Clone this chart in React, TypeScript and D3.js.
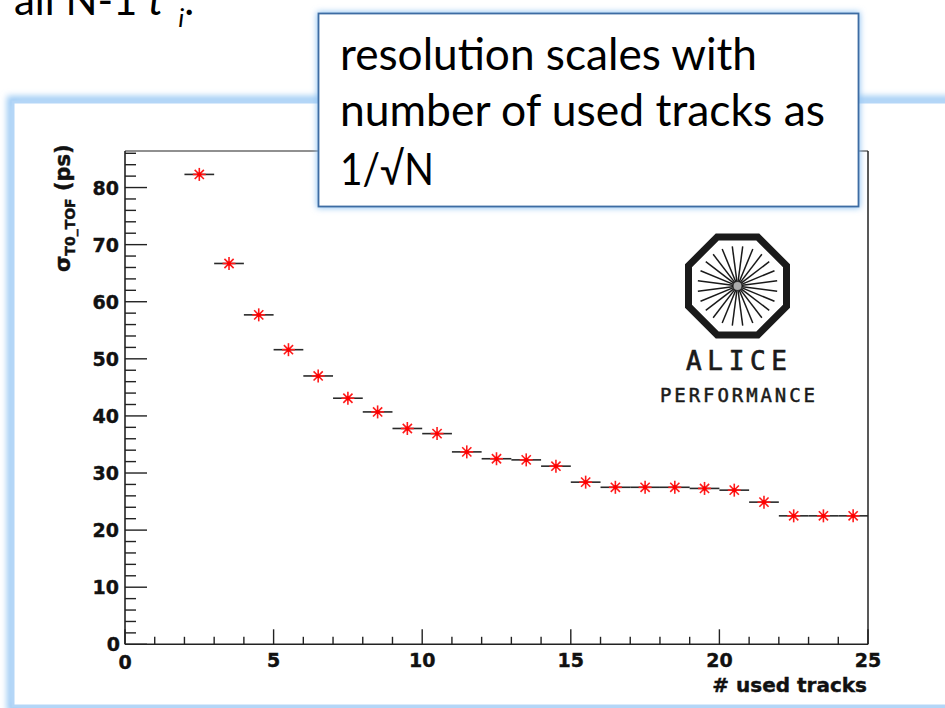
import React from "react";
import * as d3 from "d3";

// Bin centres of the "# used tracks" histogram and the measured T0 resolution per bin (ps)
const trackBinCenters = [
  2.5, 3.5, 4.5, 5.5, 6.5, 7.5, 8.5, 9.5, 10.5, 11.5, 12.5, 13.5,
  14.5, 15.5, 16.5, 17.5, 18.5, 19.5, 20.5, 21.5, 22.5, 23.5, 24.5,
];
const sigmaT0Values = [
  82.3, 66.7, 57.7, 51.6, 47.0, 43.1, 40.7, 37.8, 36.9, 33.7, 32.5, 32.3,
  31.2, 28.4, 27.5, 27.5, 27.5, 27.3, 27.0, 24.9, 22.5, 22.5, 22.5,
];
const binWidth = 1;

const xMajorTicks = [0, 5, 10, 15, 20, 25];
const yMajorTicks = [0, 10, 20, 30, 40, 50, 60, 70, 80];
const xDomain: [number, number] = [0, 25];
const yDomain: [number, number] = [0, 86.4];

const calloutLines = ["resolution scales with", "number of used tracks as", "1/√N"];

const W = 945;
const H = 708;
const ROOT_FONT = "'DejaVu Sans', sans-serif";
const LOGO_FONT = "'DejaVu Sans Mono', monospace";
const SLIDE_FONT = "Lato, 'Open Sans', sans-serif";

function AliceLogo({ cx, cy }: { cx: number; cy: number }) {
  const apothem = 49;
  const R = apothem / Math.cos(Math.PI / 8);
  const octagon = d3.range(8).map((k) => {
    const a = Math.PI / 8 + (k * Math.PI) / 4;
    return [cx + R * Math.cos(a), cy + R * Math.sin(a)];
  });
  const rays = d3.range(24).map((k) => (k * Math.PI) / 12 + Math.PI / 24);
  return (
    <g>
      <polygon
        points={octagon.map((p) => p.join(",")).join(" ")}
        fill="none"
        stroke="#1a1a1a"
        strokeWidth={7}
        strokeLinejoin="miter"
      />
      {rays.map((a, i) => (
        <line
          key={i}
          x1={cx + 3 * Math.cos(a)}
          y1={cy + 3 * Math.sin(a)}
          x2={cx + 40 * Math.cos(a)}
          y2={cy + 40 * Math.sin(a)}
          stroke="#1a1a1a"
          strokeWidth={1.5}
        />
      ))}
      <circle cx={cx} cy={cy} r={4} fill="#aaa" />
      <text
        x={686}
        y={370}
        fontFamily={LOGO_FONT}
        fontSize={26}
        fill="#1a1a1a"
        stroke="#1a1a1a"
        strokeWidth={0.7}
        textLength={101}
        lengthAdjust="spacing"
      >
        ALICE
      </text>
      <text
        x={660}
        y={402}
        fontFamily={LOGO_FONT}
        fontSize={19}
        fill="#1a1a1a"
        stroke="#1a1a1a"
        strokeWidth={0.5}
        textLength={155}
        lengthAdjust="spacing"
      >
        PERFORMANCE
      </text>
    </g>
  );
}

export default function App() {
  const x = d3.scaleLinear().domain(xDomain).range([125, 868]);
  const y = d3.scaleLinear().domain(yDomain).range([644.3, 151]);

  const xMinor = x.ticks(25).filter((t) => !xMajorTicks.includes(t));
  const yMinor = d3.range(0, yDomain[1], 2).filter((t) => !yMajorTicks.includes(t));

  const [x0, x1] = x.range();
  const [yb, yt] = y.range();

  const labelStyle = {
    fontFamily: ROOT_FONT,
    fontWeight: "bold" as const,
    fontSize: 19,
    fill: "#111",
    stroke: "#111",
    strokeWidth: 0.4,
  };

  return (
    <div style={{ position: "absolute", left: 0, top: 0 }}>
      <svg width={W} height={H} style={{ display: "block", background: "#fff" }}>
        <defs>
          <filter id="glow" x="-10%" y="-10%" width="120%" height="120%">
            <feGaussianBlur stdDeviation={3} />
          </filter>
        </defs>

        {/* slide heading fragment */}
        <text x={14} y={15} fontFamily={SLIDE_FONT} fontSize={42} fill="#000">
          all N-1{" "}
          <tspan fontStyle="italic">t</tspan>
          <tspan fontSize={26} dy={-18}>0</tspan>
          <tspan fontSize={26} fontStyle="italic" dy={30}>i</tspan>
          <tspan dy={-12}>.</tspan>
        </text>

        {/* picture panel */}
        <rect x={11} y={100} width={960} height={608} fill="none" stroke="#9ccaf4" strokeWidth={8} filter="url(#glow)" />
        <rect x={13} y={102} width={960} height={604} fill="#fff" stroke="#b4d6f7" strokeWidth={3} />

        {/* frame */}
        <line x1={x0} y1={yt} x2={x1} y2={yt} stroke="#222" strokeWidth={1.2} />
        <line x1={x1} y1={yt} x2={x1} y2={yb} stroke="#222" strokeWidth={1.5} />

        {/* y axis */}
        <line x1={x0} y1={yb} x2={x0} y2={yt} stroke="#222" strokeWidth={1.6} />
        {yMajorTicks.map((t) => (
          <g key={"ym" + t}>
            <line x1={x0} x2={x0 + 22} y1={y(t)} y2={y(t)} stroke="#222" strokeWidth={1.4} />
            <text x={t === 0 ? 120 : 119} y={y(t) + 7} textAnchor="end" {...labelStyle}>
              {t}
            </text>
          </g>
        ))}
        {yMinor.map((t) => (
          <line key={"yn" + t} x1={x0} x2={x0 + 11} y1={y(t)} y2={y(t)} stroke="#222" strokeWidth={1.4} />
        ))}

        {/* x axis */}
        <line x1={x0} y1={yb} x2={x1} y2={yb} stroke="#222" strokeWidth={1.6} />
        {xMajorTicks.map((t) => (
          <g key={"xm" + t}>
            <line x1={x(t)} x2={x(t)} y1={yb} y2={yb - 15} stroke="#222" strokeWidth={1.4} />
            <text x={x(t)} y={t === 0 ? 669 : 667} textAnchor="middle" {...labelStyle}>
              {t}
            </text>
          </g>
        ))}
        {xMinor.map((t) => (
          <line key={"xn" + t} x1={x(t)} x2={x(t)} y1={yb} y2={yb - 7.5} stroke="#222" strokeWidth={1.4} />
        ))}

        {/* axis titles */}
        <text x={867} y={692} textAnchor="end" {...labelStyle} fontSize={20}>
          # used tracks
        </text>
        <text transform="translate(70,272) rotate(-90)" {...labelStyle} fontSize={21}>
          σ
          <tspan fontSize={14} dy={5}>T0_TOF</tspan>
          <tspan dy={-5}> (ps)</tspan>
        </text>

        {/* histogram points: horizontal bin-width bars with asterisk markers */}
        {trackBinCenters.map((c, i) => {
          const px = x(c);
          const py = y(sigmaT0Values[i]);
          const r = 6.5;
          return (
            <g key={"p" + i}>
              <line
                x1={x(c - binWidth / 2)}
                x2={x(c + binWidth / 2)}
                y1={py}
                y2={py}
                stroke="#2a2a2a"
                strokeWidth={1.6}
              />
              {[0, 45, 90, 135].map((deg) => {
                const a = (deg * Math.PI) / 180;
                return (
                  <line
                    key={deg}
                    x1={px - r * Math.cos(a)}
                    y1={py - r * Math.sin(a)}
                    x2={px + r * Math.cos(a)}
                    y2={py + r * Math.sin(a)}
                    stroke="#ff1a1a"
                    strokeWidth={1.6}
                  />
                );
              })}
              <circle cx={px} cy={py} r={2.2} fill="#ff0000" />
            </g>
          );
        })}

        <AliceLogo cx={737.5} cy={286} />

        {/* callout */}
        <rect x={317} y={12} width={543} height={196} fill="#8fc3f2" filter="url(#glow)" />
        <rect x={318.5} y={13.5} width={540} height={193} fill="#fff" stroke="#3d6ca3" strokeWidth={1.8} />
        {calloutLines.map((line, i) => (
          <text
            key={line}
            x={340}
            y={[70, 125.5, 185][i]}
            fontFamily={SLIDE_FONT}
            fontSize={44}
            fill="#000"
            textLength={[417, 485, 94][i]}
            lengthAdjust="spacingAndGlyphs"
          >
            {line}
          </text>
        ))}
      </svg>
    </div>
  );
}
